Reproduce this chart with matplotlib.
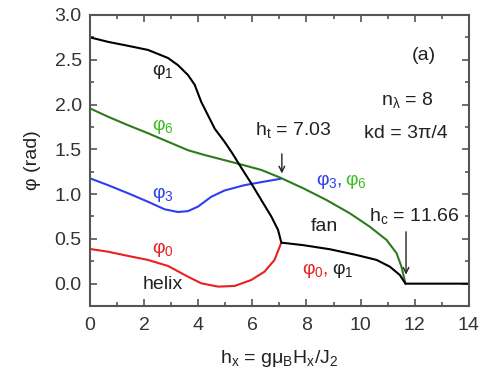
import matplotlib.pyplot as plt
from matplotlib.ticker import MultipleLocator

plt.rcParams['font.family'] = ['Liberation Sans', 'DejaVu Sans']
plt.rcParams['mathtext.fontset'] = 'custom'
plt.rcParams['mathtext.rm'] = 'Liberation Sans'
plt.rcParams['mathtext.it'] = 'Liberation Sans'

# phi_1 (black): helix branch up to h_t, then fan branch down to h_c, then zero
h_phi1 = [0, 0.665, 1.40, 2.14, 2.88, 3.25, 3.62, 3.87, 4.11, 4.36, 4.61, 4.97, 5.25, 5.62,
          5.96, 6.33, 6.70, 6.95, 7.07,
          7.88, 8.87, 9.85, 10.59, 11.08, 11.45, 11.66, 14.0]
phi1 = [2.75, 2.70, 2.656, 2.61, 2.52, 2.44, 2.33, 2.22, 2.03, 1.88, 1.73, 1.585, 1.46, 1.28,
        1.12, 0.934, 0.75, 0.60, 0.458,
        0.43, 0.384, 0.32, 0.265, 0.19, 0.097, 0.0, 0.0]

# phi_6 (green)
h_phi6 = [0, 0.665, 1.40, 2.14, 2.88, 3.62, 4.24, 5.34, 6.33, 7.02, 7.88, 8.74, 9.6, 10.34,
          10.96, 11.33, 11.51, 11.66]
phi6 = [1.957, 1.864, 1.77, 1.68, 1.585, 1.49, 1.436, 1.35, 1.27, 1.185, 1.065, 0.934, 0.786, 0.636,
        0.488, 0.34, 0.19, 0.0]

# phi_3 (blue), merges with phi_6 at h_t
h_phi3 = [0, 0.665, 1.40, 2.14, 2.76, 3.25, 3.62, 3.99, 4.48, 4.97, 5.71, 6.45, 7.03]
phi3 = [1.176, 1.10, 1.01, 0.915, 0.83, 0.80, 0.81, 0.86, 0.97, 1.04, 1.10, 1.14, 1.17]

# phi_0 (red), merges with phi_1 at h_t
h_phi0 = [0, 0.665, 1.40, 2.14, 2.88, 3.62, 4.11, 4.73, 5.34, 5.96, 6.45, 6.82, 7.07]
phi0 = [0.387, 0.357, 0.31, 0.265, 0.198, 0.078, 0.004, -0.033, -0.026, 0.041, 0.134, 0.265, 0.458]

fig = plt.figure(figsize=(4.85, 3.84), dpi=100)
ax = fig.add_axes([0.1856, 0.203, 0.781, 0.758])

c_black = 'black'
c_green = '#2f7a1f'
c_blue = '#2f3ff0'
c_red = '#e82020'
c_green_txt = '#3cbf1f'
c_txt = '#222222'

ax.plot(h_phi6, phi6, color=c_green, lw=1.5)
ax.plot(h_phi3, phi3, color=c_blue, lw=1.5)
ax.plot(h_phi0, phi0, color=c_red, lw=1.5)
ax.plot(h_phi1, phi1, color=c_black, lw=1.5)

fs = 14
ax.text(2.7, 2.37, r'$\mathregular{φ_1}$', color=c_txt, fontsize=fs, ha='center', va='center')
ax.text(2.7, 1.75, r'$\mathregular{φ_6}$', color=c_green_txt, fontsize=fs, ha='center', va='center')
ax.text(2.7, 0.99, r'$\mathregular{φ_3}$', color=c_blue, fontsize=fs, ha='center', va='center')
ax.text(2.7, 0.38, r'$\mathregular{φ_0}$', color=c_red, fontsize=fs, ha='center', va='center')
ax.text(2.67, -0.01, 'helix', color=c_txt, fontsize=fs, ha='center', va='center')
ax.text(8.65, 0.64, 'fan', color=c_txt, fontsize=fs, ha='center', va='center')

ax.text(7.82, 0.15, r'$\mathregular{φ_0}$,', color=c_red, fontsize=fs, ha='left', va='center')
ax.text(8.93, 0.15, r'$\mathregular{φ_1}$', color=c_txt, fontsize=fs, ha='left', va='center')
ax.text(8.35, 1.14, r'$\mathregular{φ_3}$,', color=c_blue, fontsize=fs, ha='left', va='center')
ax.text(9.42, 1.14, r'$\mathregular{φ_6}$', color=c_green_txt, fontsize=fs, ha='left', va='center')

ax.text(7.51, 1.72, r'$\mathregular{h_t}$ = 7.03', color=c_txt, fontsize=fs, ha='center', va='center')
ax.annotate('', xy=(7.09, 1.20), xytext=(7.09, 1.48),
            arrowprops=dict(arrowstyle='->', color=c_txt, lw=1.0))
ax.text(11.99, 0.75, r'$\mathregular{h_c}$ = 11.66', color=c_txt, fontsize=fs, ha='center', va='center')
ax.annotate('', xy=(11.68, 0.07), xytext=(11.68, 0.61),
            arrowprops=dict(arrowstyle='->', color=c_txt, lw=1.0))

ax.text(12.32, 2.55, '(a)', color=c_txt, fontsize=fs, ha='center', va='center')
ax.text(11.71, 2.05, r'$\mathregular{n_λ}$ = 8', color=c_txt, fontsize=fs, ha='center', va='center')
ax.text(11.66, 1.68, 'kd = 3π/4', color=c_txt, fontsize=fs, ha='center', va='center')

ax.set_xlim(0, 14)
ax.set_ylim(-0.25, 3.0)
ax.xaxis.set_major_locator(MultipleLocator(2))
ax.xaxis.set_minor_locator(MultipleLocator(1))
ax.yaxis.set_major_locator(MultipleLocator(0.5))
ax.yaxis.set_minor_locator(MultipleLocator(0.25))
ax.yaxis.set_major_formatter(plt.FuncFormatter(lambda v, p: f'{v:.1f}'))
ax.tick_params(which='both', direction='in', top=True, right=True, color='#555555',
               labelsize=fs, labelcolor='#333333', width=1.2)
ax.tick_params(which='major', length=5)
ax.tick_params(which='minor', length=3)
ax.tick_params(axis='x', which='major', pad=8)
ax.tick_params(axis='y', which='major', pad=6)
for s in ax.spines.values():
    s.set_color('#555555')
    s.set_linewidth(1.5)

ax.set_xlabel(r'$\mathregular{h_x}$ = g$\mathregular{μ_B H_x/J_2}$', fontsize=fs, color=c_txt, labelpad=10)
ax.set_ylabel('φ (rad)', fontsize=fs, color=c_txt, labelpad=10)

fig.savefig('out.png', dpi=100)
